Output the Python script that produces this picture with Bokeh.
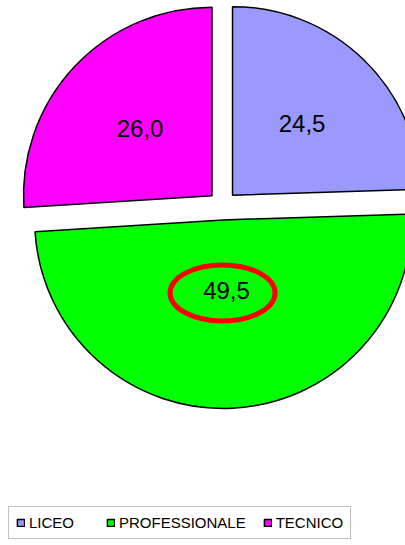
import math
from bokeh.plotting import figure
from bokeh.models import ColumnDataSource, Range1d, Legend, LegendItem
from bokeh.core.properties import value
from bokeh.embed import file_html
from bokeh.resources import INLINE

# ---- data ----
categories = ["LICEO", "PROFESSIONALE", "TECNICO"]
values = [24.5, 49.5, 26.0]
value_labels = ["24,5", "49,5", "26,0"]
highlighted = "PROFESSIONALE"

# ---- styles / layout ----
colors = ["#9999FF", "#00FF00", "#FF00FF"]
W, H = 405, 545
CX, CY = 222.0, 340.0      # pie centre (data units = px)
R = 188.5                  # radius
EXPLODE = 14.4             # explode distance
LABEL_FACTOR = 0.88

total = sum(values)
xs, ys, starts, ends, lx, ly = [], [], [], [], [], []
cum = 0.0
for v in values:
    s_cw = cum / total * 360.0
    cum += v
    e_cw = cum / total * 360.0
    mid = math.radians(90.0 - (s_cw + e_cw) / 2.0)
    ox = CX + EXPLODE * math.cos(mid)
    oy = CY + EXPLODE * math.sin(mid)
    xs.append(ox)
    ys.append(oy)
    starts.append(math.radians(90.0 - s_cw))
    ends.append(math.radians(90.0 - e_cw))
    half = math.radians((e_cw - s_cw) / 2.0)
    dist = LABEL_FACTOR * 2.0 * R * math.sin(half) / (3.0 * half)
    lx.append(ox + dist * math.cos(mid))
    ly.append(oy + dist * math.sin(mid))

src = ColumnDataSource(dict(x=xs, y=ys, start=starts, end=ends, color=colors,
                            cat=categories, lab=value_labels, lx=lx, ly=ly))

p = figure(width=W, height=H, output_backend="svg", toolbar_location=None,
           x_range=Range1d(0, W), y_range=Range1d(0, H),
           x_axis_location=None, y_axis_location=None, min_border=0,
           outline_line_color=None, background_fill_color="white",
           border_fill_color="white")
p.grid.visible = False

r = p.wedge(x="x", y="y", radius=R, start_angle="start", end_angle="end",
            direction="clock", fill_color="color", line_color="black",
            line_width=1.5, source=src)

hi = categories.index(highlighted)
p.ellipse(x=[lx[hi] - 4], y=[ly[hi] - 2], width=105, height=56, fill_color=None,
          line_color="#FF0000", line_width=5)

p.text(x="lx", y="ly", text="lab", source=src, text_align="center",
       text_baseline="middle", text_font=value("Liberation Sans"),
       text_font_size="24px", text_color="black")

items = [LegendItem(label=c, renderers=[r], index=i) for i, c in enumerate(categories)]
legend = Legend(items=items, orientation="horizontal", location=(8, 6),
                label_text_font="Liberation Sans", label_text_font_size="15px",
                label_text_color="black",
                glyph_width=9, glyph_height=9, label_standoff=4, spacing=17,
                label_width=60, padding=7, margin=0,
                border_line_color="#808080", border_line_width=1,
                background_fill_color="white", background_fill_alpha=1.0)
p.add_layout(legend)

open("out.html", "w").write(file_html(p, INLINE))
